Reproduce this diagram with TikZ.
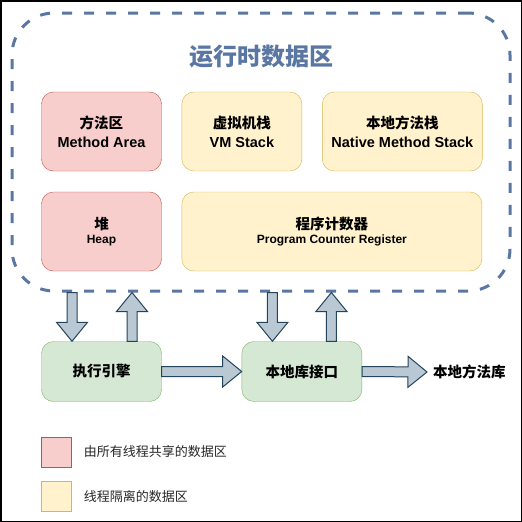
\documentclass[tikz,border=0pt]{standalone}
\usepackage{fontspec}
\setmainfont{Liberation Sans}
\newfontfamily\cjk{Noto Sans CJK SC}
\usetikzlibrary{calc,positioning}

\definecolor{rdablue}{RGB}{90,119,163}
\definecolor{sharedfill}{HTML}{F8CECC}
\definecolor{sharedline}{HTML}{B85450}
\definecolor{privfill}{HTML}{FFF2CC}
\definecolor{privline}{HTML}{D6B656}
\definecolor{engfill}{HTML}{D5E8D4}
\definecolor{engline}{HTML}{82B366}
\definecolor{arrfill}{HTML}{BAC8D3}
\definecolor{arrline}{HTML}{23445D}

\newcommand\zh[1]{{\cjk #1}}
% block arrow from #1 to #2
\newcommand\blockarrow[2]{%
  \path[barrow] let \p1=(#1), \p2=(#2),
    \n1={atan2(\y2-\y1,\x2-\x1)}, \n2={veclen(\x2-\x1,\y2-\y1)} in
    [shift={(\p1)},rotate=\n1] (0,-5) -- ({\n2-19},-5) -- ({\n2-19},-15.5)
    -- ({\n2},0) -- ({\n2-19},15.5) -- ({\n2-19},5) -- (0,5) -- cycle;}

\tikzset{
  rdabox/.style={draw=rdablue, line width=3pt, dash pattern=on 10pt off 12pt,
    rounded corners=42pt, minimum width=498pt, minimum height=278pt},
  areabox/.style={rounded corners=12pt, minimum width=120pt, minimum height=79pt,
    align=center, font=\bfseries\fontsize{14.5}{19}\selectfont},
  small/.style={font=\bfseries\fontsize{14.5}{14.5}\selectfont},
  shared/.style={areabox, draw=sharedline, fill=sharedfill},
  private/.style={areabox, draw=privline, fill=privfill},
  engine/.style={draw=engline, fill=engfill, rounded corners=12pt,
    minimum width=120pt, minimum height=60pt, font=\bfseries\fontsize{14.5}{14.5}\selectfont},
  barrow/.style={draw=arrline, fill=arrfill, line width=1pt},
  legbox/.style={minimum size=30pt, inner sep=0pt},
  legtext/.style={inner sep=0pt, text=black!85, font=\cjk\fontsize{13}{13}\selectfont}
}

\begin{document}
\begin{tikzpicture}[x=1pt,y=-1pt]
\useasboundingbox (0,0) rectangle (522,522);
\draw[line width=1.5pt] (0.75,0.75) rectangle (521.25,521.25);

% runtime data area
\node[rdabox] (rda) at (261,152) {};
\node[text=rdablue, font=\cjk\bfseries\fontsize{24}{24}\selectfont] (title) at (261.5,57) {运行时数据区};
\node[shared] (ma) at (101.5,131.5) {\zh{方法区}\\Method Area};
\node[private, right=20pt of ma] (vms) {\zh{虚拟机栈}\\VM Stack};
\node[private, minimum width=160pt, right=20pt of vms] (nms) {\zh{本地方法栈}\\Native Method Stack};
\node[shared, small] (heap) at (101.5,231.5) {\zh{堆}\\{\fontsize{12}{14.5}\selectfont Heap}};
\node[private, small, minimum width=300pt, right=20pt of heap] (pc) {\zh{程序计数器}\\{\fontsize{12}{14.5}\selectfont Program Counter Register}};

% engine and native interface
\node[engine] (exec) at (101.5,371.5) {\zh{执行引擎}};
\node[engine, right=80pt of exec] (nli) {\zh{本地库接口}};
\node[anchor=west, inner sep=0pt, font=\bfseries\fontsize{14.5}{14.5}\selectfont] (nml) at (433,372) {\zh{本地方法库}};

\coordinate (d1) at ([xshift=-29.5pt]exec.north);
\coordinate (u1) at ([xshift=30.5pt]exec.north);
\coordinate (d2) at ([xshift=-29.5pt]nli.north);
\coordinate (u2) at ([xshift=29.5pt]nli.north);
\coordinate (nmlin) at ([xshift=-6pt]nml.west);

\blockarrow{rda.south -| d1}{d1}
\blockarrow{u1}{rda.south -| u1}
\blockarrow{rda.south -| d2}{d2}
\blockarrow{u2}{rda.south -| u2}
\blockarrow{exec.east}{nli.west}
\blockarrow{nli.east}{nmlin}

% legend
\node[legbox, draw=sharedline, fill=sharedfill] (lg1) at (56.5,452) {};
\node[legtext, right=12pt of lg1] (lgt1) {由所有线程共享的数据区};
\node[legbox, draw=privline, fill=privfill] (lg2) at (56.5,496.5) {};
\node[legtext, right=12pt of lg2] (lgt2) {线程隔离的数据区};
\end{tikzpicture}
\end{document}
